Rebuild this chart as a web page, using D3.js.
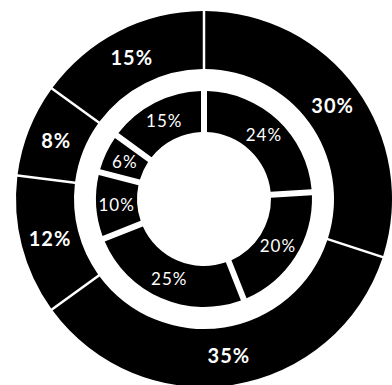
<!DOCTYPE html>
<html>
<head>
<meta charset="utf-8">
<script src="https://cdn.jsdelivr.net/npm/d3@7"></script>
<style>
  html, body { margin: 0; padding: 0; background: #fff; }
  svg { display: block; }
</style>
</head>
<body>
<svg id="chart" width="392" height="385"></svg>
<script>
// Data
const outerLabels = ["30%", "35%", "12%", "8%", "15%"];
const outerValues = [30, 35, 12, 8, 15];
const innerLabels = ["24%", "20%", "25%", "10%", "6%", "15%"];
const innerValues = [24, 20, 25, 10, 6, 15];

const svg = d3.select("#chart");
const cx = 204, cy = 199;
const g = svg.append("g").attr("transform", `translate(${cx},${cy})`);

const pie = d3.pie().sort(null).value(d => d.v);

function ring(labels, values, r0, r1, gap, fontSize, weight, spacing) {
  const data = pie(values.map((v, i) => ({ v, label: labels[i] })));
  const padR = (r0 + r1) / 2;
  const arc = d3.arc().innerRadius(r0).outerRadius(r1)
    .padRadius(padR).padAngle(gap / padR);
  const grp = g.append("g");
  grp.selectAll("path").data(data).join("path")
    .attr("d", arc)
    .attr("fill", "#000");
  const labelArc = d3.arc().innerRadius(r0).outerRadius(r1);
  grp.selectAll("text").data(data).join("text")
    .attr("transform", d => `translate(${labelArc.centroid(d)})`)
    .attr("text-anchor", "middle")
    .attr("dy", "0.36em")
    .attr("fill", "#fff")
    .style("font-family", "Lato, 'Open Sans', sans-serif")
    .style("font-size", fontSize + "px")
    .style("font-weight", weight)
    .style("letter-spacing", spacing + "px")
    .text(d => d.data.label);
}

ring(outerLabels, outerValues, 130, 188, 2.5, 20, 700, 1);
ring(innerLabels, innerValues, 67, 108, 6, 17, 400, 1);
</script>
</body>
</html>
